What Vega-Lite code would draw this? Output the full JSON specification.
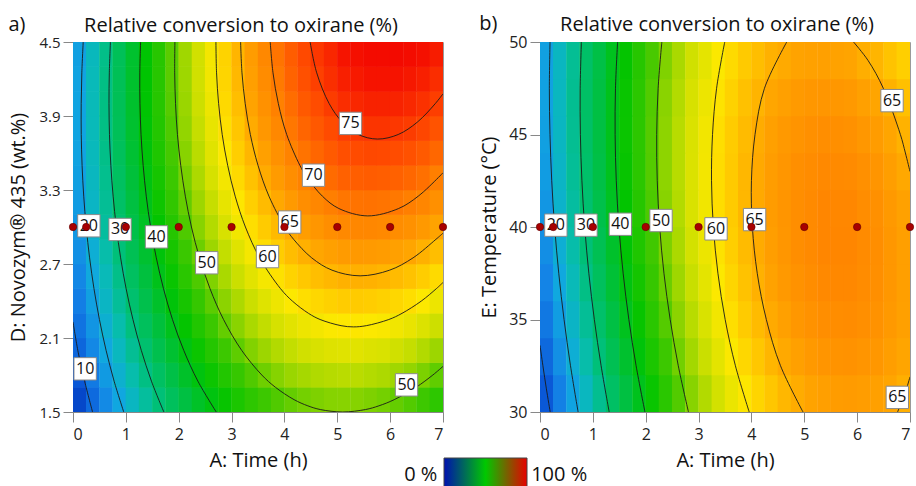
{
"$schema":"https://vega.github.io/schema/vega-lite/v6.json",
"padding":{"left":8,"top":13,"right":0,"bottom":0},
"config":{"font":"Open Sans","view":{"stroke":"#9a9a9a"},
"axis":{"grid":false,"labelFont":"Open Sans","titleFont":"Open Sans","labelColor":"#222","titleColor":"#111","titleFontWeight":"normal","domainColor":"#888","tickColor":"#888","tickSize":10,"zindex":1},
"title":{"font":"Open Sans","fontWeight":"normal","fontSize":20,"color":"#111"}},
"datasets":{
"ha":[
{"t":0.125,"y":1.6,"v":7.7},{"t":0.375,"y":1.6,"v":12},{"t":0.625,"y":1.6,"v":16.1},{"t":0.875,"y":1.6,"v":19.9},{"t":1.125,"y":1.6,"v":23.5},{"t":1.375,"y":1.6,"v":26.9},{"t":1.625,"y":1.6,"v":30.1},{"t":1.875,"y":1.6,"v":33},{"t":2.125,"y":1.6,"v":35.8},{"t":2.375,"y":1.6,"v":38.3},{"t":2.625,"y":1.6,"v":40.6},{"t":2.875,"y":1.6,"v":42.7},{"t":3.125,"y":1.6,"v":44.5},{"t":3.375,"y":1.6,"v":46.2},{"t":3.625,"y":1.6,"v":47.6},{"t":3.875,"y":1.6,"v":48.8},{"t":4.125,"y":1.6,"v":49.8},{"t":4.375,"y":1.6,"v":50.6},{"t":4.625,"y":1.6,"v":51.1},{"t":4.875,"y":1.6,"v":51.5},{"t":5.125,"y":1.6,"v":51.6},{"t":5.375,"y":1.6,"v":51.5},{"t":5.625,"y":1.6,"v":51.1},{"t":5.875,"y":1.6,"v":50.6},{"t":6.125,"y":1.6,"v":49.8},{"t":6.375,"y":1.6,"v":48.9},{"t":6.625,"y":1.6,"v":47.7},{"t":6.875,"y":1.6,"v":46.2},
{"t":0.125,"y":1.8,"v":9.7},{"t":0.375,"y":1.8,"v":14},{"t":0.625,"y":1.8,"v":18.2},{"t":0.875,"y":1.8,"v":22},{"t":1.125,"y":1.8,"v":25.7},{"t":1.375,"y":1.8,"v":29.1},{"t":1.625,"y":1.8,"v":32.4},{"t":1.875,"y":1.8,"v":35.3},{"t":2.125,"y":1.8,"v":38.2},{"t":2.375,"y":1.8,"v":40.7},{"t":2.625,"y":1.8,"v":43.1},{"t":2.875,"y":1.8,"v":45.2},{"t":3.125,"y":1.8,"v":47.1},{"t":3.375,"y":1.8,"v":48.8},{"t":3.625,"y":1.8,"v":50.3},{"t":3.875,"y":1.8,"v":51.5},{"t":4.125,"y":1.8,"v":52.6},{"t":4.375,"y":1.8,"v":53.4},{"t":4.625,"y":1.8,"v":54},{"t":4.875,"y":1.8,"v":54.4},{"t":5.125,"y":1.8,"v":54.6},{"t":5.375,"y":1.8,"v":54.6},{"t":5.625,"y":1.8,"v":54.2},{"t":5.875,"y":1.8,"v":53.8},{"t":6.125,"y":1.8,"v":53},{"t":6.375,"y":1.8,"v":52.2},{"t":6.625,"y":1.8,"v":51},{"t":6.875,"y":1.8,"v":49.6},
{"t":0.125,"y":2.0,"v":11.5},{"t":0.375,"y":2.0,"v":15.8},{"t":0.625,"y":2.0,"v":20.1},{"t":0.875,"y":2.0,"v":23.9},{"t":1.125,"y":2.0,"v":27.7},{"t":1.375,"y":2.0,"v":31.1},{"t":1.625,"y":2.0,"v":34.5},{"t":1.875,"y":2.0,"v":37.4},{"t":2.125,"y":2.0,"v":40.4},{"t":2.375,"y":2.0,"v":43},{"t":2.625,"y":2.0,"v":45.4},{"t":2.875,"y":2.0,"v":47.6},{"t":3.125,"y":2.0,"v":49.5},{"t":3.375,"y":2.0,"v":51.3},{"t":3.625,"y":2.0,"v":52.8},{"t":3.875,"y":2.0,"v":54.1},{"t":4.125,"y":2.0,"v":55.2},{"t":4.375,"y":2.0,"v":56.1},{"t":4.625,"y":2.0,"v":56.7},{"t":4.875,"y":2.0,"v":57.2},{"t":5.125,"y":2.0,"v":57.4},{"t":5.375,"y":2.0,"v":57.5},{"t":5.625,"y":2.0,"v":57.1},{"t":5.875,"y":2.0,"v":56.8},{"t":6.125,"y":2.0,"v":56},{"t":6.375,"y":2.0,"v":55.3},{"t":6.625,"y":2.0,"v":54.1},{"t":6.875,"y":2.0,"v":52.8},
{"t":0.125,"y":2.2,"v":13.1},{"t":0.375,"y":2.2,"v":17.5},{"t":0.625,"y":2.2,"v":21.8},{"t":0.875,"y":2.2,"v":25.7},{"t":1.125,"y":2.2,"v":29.5},{"t":1.375,"y":2.2,"v":33},{"t":1.625,"y":2.2,"v":36.4},{"t":1.875,"y":2.2,"v":39.4},{"t":2.125,"y":2.2,"v":42.4},{"t":2.375,"y":2.2,"v":45.1},{"t":2.625,"y":2.2,"v":47.5},{"t":2.875,"y":2.2,"v":49.8},{"t":3.125,"y":2.2,"v":51.7},{"t":3.375,"y":2.2,"v":53.6},{"t":3.625,"y":2.2,"v":55.1},{"t":3.875,"y":2.2,"v":56.5},{"t":4.125,"y":2.2,"v":57.6},{"t":4.375,"y":2.2,"v":58.6},{"t":4.625,"y":2.2,"v":59.2},{"t":4.875,"y":2.2,"v":59.8},{"t":5.125,"y":2.2,"v":60.1},{"t":5.375,"y":2.2,"v":60.2},{"t":5.625,"y":2.2,"v":59.9},{"t":5.875,"y":2.2,"v":59.6},{"t":6.125,"y":2.2,"v":58.9},{"t":6.375,"y":2.2,"v":58.2},{"t":6.625,"y":2.2,"v":57.1},{"t":6.875,"y":2.2,"v":55.8},
{"t":0.125,"y":2.4,"v":14.5},{"t":0.375,"y":2.4,"v":19},{"t":0.625,"y":2.4,"v":23.3},{"t":0.875,"y":2.4,"v":27.3},{"t":1.125,"y":2.4,"v":31.1},{"t":1.375,"y":2.4,"v":34.7},{"t":1.625,"y":2.4,"v":38.1},{"t":1.875,"y":2.4,"v":41.2},{"t":2.125,"y":2.4,"v":44.2},{"t":2.375,"y":2.4,"v":47},{"t":2.625,"y":2.4,"v":49.4},{"t":2.875,"y":2.4,"v":51.8},{"t":3.125,"y":2.4,"v":53.8},{"t":3.375,"y":2.4,"v":55.7},{"t":3.625,"y":2.4,"v":57.3},{"t":3.875,"y":2.4,"v":58.7},{"t":4.125,"y":2.4,"v":59.9},{"t":4.375,"y":2.4,"v":60.9},{"t":4.625,"y":2.4,"v":61.6},{"t":4.875,"y":2.4,"v":62.2},{"t":5.125,"y":2.4,"v":62.6},{"t":5.375,"y":2.4,"v":62.7},{"t":5.625,"y":2.4,"v":62.5},{"t":5.875,"y":2.4,"v":62.2},{"t":6.125,"y":2.4,"v":61.6},{"t":6.375,"y":2.4,"v":60.9},{"t":6.625,"y":2.4,"v":59.9},{"t":6.875,"y":2.4,"v":58.6},
{"t":0.125,"y":2.6,"v":15.7},{"t":0.375,"y":2.6,"v":20.3},{"t":0.625,"y":2.6,"v":24.6},{"t":0.875,"y":2.6,"v":28.7},{"t":1.125,"y":2.6,"v":32.6},{"t":1.375,"y":2.6,"v":36.2},{"t":1.625,"y":2.6,"v":39.7},{"t":1.875,"y":2.6,"v":42.8},{"t":2.125,"y":2.6,"v":45.9},{"t":2.375,"y":2.6,"v":48.7},{"t":2.625,"y":2.6,"v":51.2},{"t":2.875,"y":2.6,"v":53.6},{"t":3.125,"y":2.6,"v":55.7},{"t":3.375,"y":2.6,"v":57.6},{"t":3.625,"y":2.6,"v":59.3},{"t":3.875,"y":2.6,"v":60.7},{"t":4.125,"y":2.6,"v":62},{"t":4.375,"y":2.6,"v":63},{"t":4.625,"y":2.6,"v":63.8},{"t":4.875,"y":2.6,"v":64.4},{"t":5.125,"y":2.6,"v":64.9},{"t":5.375,"y":2.6,"v":65},{"t":5.625,"y":2.6,"v":64.9},{"t":5.875,"y":2.6,"v":64.6},{"t":6.125,"y":2.6,"v":64.1},{"t":6.375,"y":2.6,"v":63.5},{"t":6.625,"y":2.6,"v":62.5},{"t":6.875,"y":2.6,"v":61.3},
{"t":0.125,"y":2.8,"v":16.8},{"t":0.375,"y":2.8,"v":21.4},{"t":0.625,"y":2.8,"v":25.8},{"t":0.875,"y":2.8,"v":29.9},{"t":1.125,"y":2.8,"v":33.9},{"t":1.375,"y":2.8,"v":37.5},{"t":1.625,"y":2.8,"v":41.1},{"t":1.875,"y":2.8,"v":44.2},{"t":2.125,"y":2.8,"v":47.4},{"t":2.375,"y":2.8,"v":50.2},{"t":2.625,"y":2.8,"v":52.8},{"t":2.875,"y":2.8,"v":55.2},{"t":3.125,"y":2.8,"v":57.4},{"t":3.375,"y":2.8,"v":59.3},{"t":3.625,"y":2.8,"v":61.1},{"t":3.875,"y":2.8,"v":62.5},{"t":4.125,"y":2.8,"v":63.9},{"t":4.375,"y":2.8,"v":65},{"t":4.625,"y":2.8,"v":65.8},{"t":4.875,"y":2.8,"v":66.5},{"t":5.125,"y":2.8,"v":67},{"t":5.375,"y":2.8,"v":67.2},{"t":5.625,"y":2.8,"v":67.1},{"t":5.875,"y":2.8,"v":66.9},{"t":6.125,"y":2.8,"v":66.4},{"t":6.375,"y":2.8,"v":65.9},{"t":6.625,"y":2.8,"v":64.9},{"t":6.875,"y":2.8,"v":63.8},
{"t":0.125,"y":3.0,"v":17.7},{"t":0.375,"y":3.0,"v":22.4},{"t":0.625,"y":3.0,"v":26.8},{"t":0.875,"y":3.0,"v":31},{"t":1.125,"y":3.0,"v":35},{"t":1.375,"y":3.0,"v":38.7},{"t":1.625,"y":3.0,"v":42.3},{"t":1.875,"y":3.0,"v":45.5},{"t":2.125,"y":3.0,"v":48.7},{"t":2.375,"y":3.0,"v":51.6},{"t":2.625,"y":3.0,"v":54.2},{"t":2.875,"y":3.0,"v":56.7},{"t":3.125,"y":3.0,"v":58.9},{"t":3.375,"y":3.0,"v":60.9},{"t":3.625,"y":3.0,"v":62.7},{"t":3.875,"y":3.0,"v":64.2},{"t":4.125,"y":3.0,"v":65.6},{"t":4.375,"y":3.0,"v":66.8},{"t":4.625,"y":3.0,"v":67.6},{"t":4.875,"y":3.0,"v":68.4},{"t":5.125,"y":3.0,"v":69},{"t":5.375,"y":3.0,"v":69.2},{"t":5.625,"y":3.0,"v":69.2},{"t":5.875,"y":3.0,"v":69},{"t":6.125,"y":3.0,"v":68.6},{"t":6.375,"y":3.0,"v":68.1},{"t":6.625,"y":3.0,"v":67.2},{"t":6.875,"y":3.0,"v":66.1},
{"t":0.125,"y":3.2,"v":18.4},{"t":0.375,"y":3.2,"v":23.2},{"t":0.625,"y":3.2,"v":27.6},{"t":0.875,"y":3.2,"v":31.9},{"t":1.125,"y":3.2,"v":35.9},{"t":1.375,"y":3.2,"v":39.7},{"t":1.625,"y":3.2,"v":43.3},{"t":1.875,"y":3.2,"v":46.6},{"t":2.125,"y":3.2,"v":49.8},{"t":2.375,"y":3.2,"v":52.8},{"t":2.625,"y":3.2,"v":55.4},{"t":2.875,"y":3.2,"v":58},{"t":3.125,"y":3.2,"v":60.2},{"t":3.375,"y":3.2,"v":62.3},{"t":3.625,"y":3.2,"v":64.1},{"t":3.875,"y":3.2,"v":65.7},{"t":4.125,"y":3.2,"v":67.1},{"t":4.375,"y":3.2,"v":68.4},{"t":4.625,"y":3.2,"v":69.2},{"t":4.875,"y":3.2,"v":70.1},{"t":5.125,"y":3.2,"v":70.8},{"t":5.375,"y":3.2,"v":71},{"t":5.625,"y":3.2,"v":71.1},{"t":5.875,"y":3.2,"v":70.9},{"t":6.125,"y":3.2,"v":70.6},{"t":6.375,"y":3.2,"v":70.1},{"t":6.625,"y":3.2,"v":69.3},{"t":6.875,"y":3.2,"v":68.2},
{"t":0.125,"y":3.4,"v":18.9},{"t":0.375,"y":3.4,"v":23.8},{"t":0.625,"y":3.4,"v":28.2},{"t":0.875,"y":3.4,"v":32.6},{"t":1.125,"y":3.4,"v":36.6},{"t":1.375,"y":3.4,"v":40.5},{"t":1.625,"y":3.4,"v":44.1},{"t":1.875,"y":3.4,"v":47.5},{"t":2.125,"y":3.4,"v":50.8},{"t":2.375,"y":3.4,"v":53.8},{"t":2.625,"y":3.4,"v":56.5},{"t":2.875,"y":3.4,"v":59.1},{"t":3.125,"y":3.4,"v":61.4},{"t":3.375,"y":3.4,"v":63.5},{"t":3.625,"y":3.4,"v":65.4},{"t":3.875,"y":3.4,"v":67},{"t":4.125,"y":3.4,"v":68.5},{"t":4.375,"y":3.4,"v":69.8},{"t":4.625,"y":3.4,"v":70.7},{"t":4.875,"y":3.4,"v":71.6},{"t":5.125,"y":3.4,"v":72.4},{"t":5.375,"y":3.4,"v":72.6},{"t":5.625,"y":3.4,"v":72.8},{"t":5.875,"y":3.4,"v":72.6},{"t":6.125,"y":3.4,"v":72.4},{"t":6.375,"y":3.4,"v":71.9},{"t":6.625,"y":3.4,"v":71.2},{"t":6.875,"y":3.4,"v":70.1},
{"t":0.125,"y":3.6,"v":19.3},{"t":0.375,"y":3.6,"v":24.2},{"t":0.625,"y":3.6,"v":28.7},{"t":0.875,"y":3.6,"v":33.1},{"t":1.125,"y":3.6,"v":37.2},{"t":1.375,"y":3.6,"v":41.1},{"t":1.625,"y":3.6,"v":44.8},{"t":1.875,"y":3.6,"v":48.2},{"t":2.125,"y":3.6,"v":51.6},{"t":2.375,"y":3.6,"v":54.6},{"t":2.625,"y":3.6,"v":57.4},{"t":2.875,"y":3.6,"v":60},{"t":3.125,"y":3.6,"v":62.4},{"t":3.375,"y":3.6,"v":64.5},{"t":3.625,"y":3.6,"v":66.5},{"t":3.875,"y":3.6,"v":68.1},{"t":4.125,"y":3.6,"v":69.7},{"t":4.375,"y":3.6,"v":71},{"t":4.625,"y":3.6,"v":72},{"t":4.875,"y":3.6,"v":72.9},{"t":5.125,"y":3.6,"v":73.8},{"t":5.375,"y":3.6,"v":74.1},{"t":5.625,"y":3.6,"v":74.3},{"t":5.875,"y":3.6,"v":74.2},{"t":6.125,"y":3.6,"v":74},{"t":6.375,"y":3.6,"v":73.6},{"t":6.625,"y":3.6,"v":72.9},{"t":6.875,"y":3.6,"v":71.9},
{"t":0.125,"y":3.8,"v":19.5},{"t":0.375,"y":3.8,"v":24.4},{"t":0.625,"y":3.8,"v":29},{"t":0.875,"y":3.8,"v":33.4},{"t":1.125,"y":3.8,"v":37.6},{"t":1.375,"y":3.8,"v":41.5},{"t":1.625,"y":3.8,"v":45.3},{"t":1.875,"y":3.8,"v":48.7},{"t":2.125,"y":3.8,"v":52.2},{"t":2.375,"y":3.8,"v":55.3},{"t":2.625,"y":3.8,"v":58.1},{"t":2.875,"y":3.8,"v":60.8},{"t":3.125,"y":3.8,"v":63.2},{"t":3.375,"y":3.8,"v":65.4},{"t":3.625,"y":3.8,"v":67.4},{"t":3.875,"y":3.8,"v":69.1},{"t":4.125,"y":3.8,"v":70.7},{"t":4.375,"y":3.8,"v":72.1},{"t":4.625,"y":3.8,"v":73.1},{"t":4.875,"y":3.8,"v":74.1},{"t":5.125,"y":3.8,"v":75},{"t":5.375,"y":3.8,"v":75.4},{"t":5.625,"y":3.8,"v":75.6},{"t":5.875,"y":3.8,"v":75.6},{"t":6.125,"y":3.8,"v":75.4},{"t":6.375,"y":3.8,"v":75.1},{"t":6.625,"y":3.8,"v":74.4},{"t":6.875,"y":3.8,"v":73.5},
{"t":0.125,"y":4.0,"v":19.5},{"t":0.375,"y":4.0,"v":24.5},{"t":0.625,"y":4.0,"v":29.1},{"t":0.875,"y":4.0,"v":33.6},{"t":1.125,"y":4.0,"v":37.8},{"t":1.375,"y":4.0,"v":41.8},{"t":1.625,"y":4.0,"v":45.6},{"t":1.875,"y":4.0,"v":49.1},{"t":2.125,"y":4.0,"v":52.6},{"t":2.375,"y":4.0,"v":55.8},{"t":2.625,"y":4.0,"v":58.6},{"t":2.875,"y":4.0,"v":61.4},{"t":3.125,"y":4.0,"v":63.8},{"t":3.375,"y":4.0,"v":66.1},{"t":3.625,"y":4.0,"v":68.1},{"t":3.875,"y":4.0,"v":69.9},{"t":4.125,"y":4.0,"v":71.5},{"t":4.375,"y":4.0,"v":73},{"t":4.625,"y":4.0,"v":74},{"t":4.875,"y":4.0,"v":75.1},{"t":5.125,"y":4.0,"v":76.1},{"t":5.375,"y":4.0,"v":76.5},{"t":5.625,"y":4.0,"v":76.8},{"t":5.875,"y":4.0,"v":76.8},{"t":6.125,"y":4.0,"v":76.7},{"t":6.375,"y":4.0,"v":76.4},{"t":6.625,"y":4.0,"v":75.8},{"t":6.875,"y":4.0,"v":74.9},
{"t":0.125,"y":4.2,"v":19.3},{"t":0.375,"y":4.2,"v":24.4},{"t":0.625,"y":4.2,"v":29},{"t":0.875,"y":4.2,"v":33.6},{"t":1.125,"y":4.2,"v":37.8},{"t":1.375,"y":4.2,"v":41.9},{"t":1.625,"y":4.2,"v":45.7},{"t":1.875,"y":4.2,"v":49.3},{"t":2.125,"y":4.2,"v":52.9},{"t":2.375,"y":4.2,"v":56.1},{"t":2.625,"y":4.2,"v":59},{"t":2.875,"y":4.2,"v":61.8},{"t":3.125,"y":4.2,"v":64.3},{"t":3.375,"y":4.2,"v":66.6},{"t":3.625,"y":4.2,"v":68.7},{"t":3.875,"y":4.2,"v":70.5},{"t":4.125,"y":4.2,"v":72.2},{"t":4.375,"y":4.2,"v":73.7},{"t":4.625,"y":4.2,"v":74.8},{"t":4.875,"y":4.2,"v":75.9},{"t":5.125,"y":4.2,"v":77},{"t":5.375,"y":4.2,"v":77.4},{"t":5.625,"y":4.2,"v":77.8},{"t":5.875,"y":4.2,"v":77.8},{"t":6.125,"y":4.2,"v":77.8},{"t":6.375,"y":4.2,"v":77.5},{"t":6.625,"y":4.2,"v":77},{"t":6.875,"y":4.2,"v":76.1},
{"t":0.125,"y":4.4,"v":18.9},{"t":0.375,"y":4.4,"v":24.1},{"t":0.625,"y":4.4,"v":28.7},{"t":0.875,"y":4.4,"v":33.4},{"t":1.125,"y":4.4,"v":37.7},{"t":1.375,"y":4.4,"v":41.8},{"t":1.625,"y":4.4,"v":45.7},{"t":1.875,"y":4.4,"v":49.3},{"t":2.125,"y":4.4,"v":53},{"t":2.375,"y":4.4,"v":56.2},{"t":2.625,"y":4.4,"v":59.2},{"t":2.875,"y":4.4,"v":62},{"t":3.125,"y":4.4,"v":64.6},{"t":3.375,"y":4.4,"v":66.9},{"t":3.625,"y":4.4,"v":69.1},{"t":3.875,"y":4.4,"v":70.9},{"t":4.125,"y":4.4,"v":72.7},{"t":4.375,"y":4.4,"v":74.2},{"t":4.625,"y":4.4,"v":75.4},{"t":4.875,"y":4.4,"v":76.5},{"t":5.125,"y":4.4,"v":77.7},{"t":5.375,"y":4.4,"v":78.1},{"t":5.625,"y":4.4,"v":78.6},{"t":5.875,"y":4.4,"v":78.6},{"t":6.125,"y":4.4,"v":78.7},{"t":6.375,"y":4.4,"v":78.5},{"t":6.625,"y":4.4,"v":78},{"t":6.875,"y":4.4,"v":77.2}
],
"hb":[
{"t":0.125,"y":31,"v":9.8},{"t":0.375,"y":31,"v":14.7},{"t":0.625,"y":31,"v":19.4},{"t":0.875,"y":31,"v":23.8},{"t":1.125,"y":31,"v":28},{"t":1.375,"y":31,"v":32.1},{"t":1.625,"y":31,"v":35.9},{"t":1.875,"y":31,"v":39.4},{"t":2.125,"y":31,"v":42.8},{"t":2.375,"y":31,"v":45.9},{"t":2.625,"y":31,"v":48.9},{"t":2.875,"y":31,"v":51.6},{"t":3.125,"y":31,"v":54.1},{"t":3.375,"y":31,"v":56.3},{"t":3.625,"y":31,"v":58.4},{"t":3.875,"y":31,"v":60.2},{"t":4.125,"y":31,"v":61.8},{"t":4.375,"y":31,"v":63.2},{"t":4.625,"y":31,"v":64.4},{"t":4.875,"y":31,"v":65.3},{"t":5.125,"y":31,"v":66.1},{"t":5.375,"y":31,"v":66.6},{"t":5.625,"y":31,"v":66.9},{"t":5.875,"y":31,"v":67},{"t":6.125,"y":31,"v":66.8},{"t":6.375,"y":31,"v":66.5},{"t":6.625,"y":31,"v":65.9},{"t":6.875,"y":31,"v":65.1},
{"t":0.125,"y":33,"v":11.9},{"t":0.375,"y":33,"v":16.8},{"t":0.625,"y":33,"v":21.4},{"t":0.875,"y":33,"v":25.8},{"t":1.125,"y":33,"v":29.9},{"t":1.375,"y":33,"v":34},{"t":1.625,"y":33,"v":37.7},{"t":1.875,"y":33,"v":41.2},{"t":2.125,"y":33,"v":44.5},{"t":2.375,"y":33,"v":47.6},{"t":2.625,"y":33,"v":50.5},{"t":2.875,"y":33,"v":53.2},{"t":3.125,"y":33,"v":55.6},{"t":3.375,"y":33,"v":57.8},{"t":3.625,"y":33,"v":59.8},{"t":3.875,"y":33,"v":61.6},{"t":4.125,"y":33,"v":63.1},{"t":4.375,"y":33,"v":64.5},{"t":4.625,"y":33,"v":65.6},{"t":4.875,"y":33,"v":66.5},{"t":5.125,"y":33,"v":67.2},{"t":5.375,"y":33,"v":67.7},{"t":5.625,"y":33,"v":67.9},{"t":5.875,"y":33,"v":68},{"t":6.125,"y":33,"v":67.7},{"t":6.375,"y":33,"v":67.4},{"t":6.625,"y":33,"v":66.7},{"t":6.875,"y":33,"v":65.9},
{"t":0.125,"y":35,"v":13.7},{"t":0.375,"y":35,"v":18.6},{"t":0.625,"y":35,"v":23.1},{"t":0.875,"y":35,"v":27.5},{"t":1.125,"y":35,"v":31.5},{"t":1.375,"y":35,"v":35.6},{"t":1.625,"y":35,"v":39.2},{"t":1.875,"y":35,"v":42.7},{"t":2.125,"y":35,"v":45.9},{"t":2.375,"y":35,"v":49},{"t":2.625,"y":35,"v":51.8},{"t":2.875,"y":35,"v":54.5},{"t":3.125,"y":35,"v":56.8},{"t":3.375,"y":35,"v":59},{"t":3.625,"y":35,"v":60.9},{"t":3.875,"y":35,"v":62.7},{"t":4.125,"y":35,"v":64.1},{"t":4.375,"y":35,"v":65.5},{"t":4.625,"y":35,"v":66.5},{"t":4.875,"y":35,"v":67.4},{"t":5.125,"y":35,"v":68},{"t":5.375,"y":35,"v":68.5},{"t":5.625,"y":35,"v":68.6},{"t":5.875,"y":35,"v":68.7},{"t":6.125,"y":35,"v":68.3},{"t":6.375,"y":35,"v":68},{"t":6.625,"y":35,"v":67.2},{"t":6.875,"y":35,"v":66.4},
{"t":0.125,"y":37,"v":15.3},{"t":0.375,"y":37,"v":20.1},{"t":0.625,"y":37,"v":24.6},{"t":0.875,"y":37,"v":28.9},{"t":1.125,"y":37,"v":32.9},{"t":1.375,"y":37,"v":36.9},{"t":1.625,"y":37,"v":40.5},{"t":1.875,"y":37,"v":43.9},{"t":2.125,"y":37,"v":47.1},{"t":2.375,"y":37,"v":50.1},{"t":2.625,"y":37,"v":52.9},{"t":2.875,"y":37,"v":55.5},{"t":3.125,"y":37,"v":57.8},{"t":3.375,"y":37,"v":59.9},{"t":3.625,"y":37,"v":61.8},{"t":3.875,"y":37,"v":63.5},{"t":4.125,"y":37,"v":64.9},{"t":4.375,"y":37,"v":66.2},{"t":4.625,"y":37,"v":67.2},{"t":4.875,"y":37,"v":68},{"t":5.125,"y":37,"v":68.6},{"t":5.375,"y":37,"v":69},{"t":5.625,"y":37,"v":69.1},{"t":5.875,"y":37,"v":69.1},{"t":6.125,"y":37,"v":68.7},{"t":6.375,"y":37,"v":68.3},{"t":6.625,"y":37,"v":67.5},{"t":6.875,"y":37,"v":66.6},
{"t":0.125,"y":39,"v":16.6},{"t":0.375,"y":39,"v":21.4},{"t":0.625,"y":39,"v":25.8},{"t":0.875,"y":39,"v":30.1},{"t":1.125,"y":39,"v":34},{"t":1.375,"y":39,"v":38},{"t":1.625,"y":39,"v":41.5},{"t":1.875,"y":39,"v":44.9},{"t":2.125,"y":39,"v":48},{"t":2.375,"y":39,"v":51},{"t":2.625,"y":39,"v":53.7},{"t":2.875,"y":39,"v":56.3},{"t":3.125,"y":39,"v":58.5},{"t":3.375,"y":39,"v":60.6},{"t":3.625,"y":39,"v":62.4},{"t":3.875,"y":39,"v":64.1},{"t":4.125,"y":39,"v":65.4},{"t":4.375,"y":39,"v":66.7},{"t":4.625,"y":39,"v":67.6},{"t":4.875,"y":39,"v":68.4},{"t":5.125,"y":39,"v":68.9},{"t":5.375,"y":39,"v":69.3},{"t":5.625,"y":39,"v":69.3},{"t":5.875,"y":39,"v":69.3},{"t":6.125,"y":39,"v":68.8},{"t":6.375,"y":39,"v":68.4},{"t":6.625,"y":39,"v":67.5},{"t":6.875,"y":39,"v":66.6},
{"t":0.125,"y":41,"v":17.6},{"t":0.375,"y":41,"v":22.4},{"t":0.625,"y":41,"v":26.7},{"t":0.875,"y":41,"v":31},{"t":1.125,"y":41,"v":34.8},{"t":1.375,"y":41,"v":38.8},{"t":1.625,"y":41,"v":42.2},{"t":1.875,"y":41,"v":45.6},{"t":2.125,"y":41,"v":48.6},{"t":2.375,"y":41,"v":51.6},{"t":2.625,"y":41,"v":54.2},{"t":2.875,"y":41,"v":56.8},{"t":3.125,"y":41,"v":58.9},{"t":3.375,"y":41,"v":61},{"t":3.625,"y":41,"v":62.7},{"t":3.875,"y":41,"v":64.4},{"t":4.125,"y":41,"v":65.6},{"t":4.375,"y":41,"v":66.9},{"t":4.625,"y":41,"v":67.7},{"t":4.875,"y":41,"v":68.5},{"t":5.125,"y":41,"v":68.9},{"t":5.375,"y":41,"v":69.3},{"t":5.625,"y":41,"v":69.2},{"t":5.875,"y":41,"v":69.2},{"t":6.125,"y":41,"v":68.6},{"t":6.375,"y":41,"v":68.2},{"t":6.625,"y":41,"v":67.2},{"t":6.875,"y":41,"v":66.3},
{"t":0.125,"y":43,"v":18.4},{"t":0.375,"y":43,"v":23.1},{"t":0.625,"y":43,"v":27.4},{"t":0.875,"y":43,"v":31.6},{"t":1.125,"y":43,"v":35.4},{"t":1.375,"y":43,"v":39.3},{"t":1.625,"y":43,"v":42.7},{"t":1.875,"y":43,"v":46},{"t":2.125,"y":43,"v":49},{"t":2.375,"y":43,"v":51.9},{"t":2.625,"y":43,"v":54.5},{"t":2.875,"y":43,"v":57},{"t":3.125,"y":43,"v":59.1},{"t":3.375,"y":43,"v":61.1},{"t":3.625,"y":43,"v":62.8},{"t":3.875,"y":43,"v":64.4},{"t":4.125,"y":43,"v":65.6},{"t":4.375,"y":43,"v":66.8},{"t":4.625,"y":43,"v":67.6},{"t":4.875,"y":43,"v":68.3},{"t":5.125,"y":43,"v":68.7},{"t":5.375,"y":43,"v":69},{"t":5.625,"y":43,"v":68.9},{"t":5.875,"y":43,"v":68.8},{"t":6.125,"y":43,"v":68.2},{"t":6.375,"y":43,"v":67.7},{"t":6.625,"y":43,"v":66.7},{"t":6.875,"y":43,"v":65.7},
{"t":0.125,"y":45,"v":18.9},{"t":0.375,"y":45,"v":23.5},{"t":0.625,"y":45,"v":27.8},{"t":0.875,"y":45,"v":31.9},{"t":1.125,"y":45,"v":35.7},{"t":1.375,"y":45,"v":39.5},{"t":1.625,"y":45,"v":42.9},{"t":1.875,"y":45,"v":46.1},{"t":2.125,"y":45,"v":49.1},{"t":2.375,"y":45,"v":51.9},{"t":2.625,"y":45,"v":54.5},{"t":2.875,"y":45,"v":56.9},{"t":3.125,"y":45,"v":59},{"t":3.375,"y":45,"v":60.9},{"t":3.625,"y":45,"v":62.6},{"t":3.875,"y":45,"v":64.1},{"t":4.125,"y":45,"v":65.3},{"t":4.375,"y":45,"v":66.4},{"t":4.625,"y":45,"v":67.2},{"t":4.875,"y":45,"v":67.8},{"t":5.125,"y":45,"v":68.2},{"t":5.375,"y":45,"v":68.4},{"t":5.625,"y":45,"v":68.3},{"t":5.875,"y":45,"v":68.1},{"t":6.125,"y":45,"v":67.5},{"t":6.375,"y":45,"v":66.9},{"t":6.625,"y":45,"v":65.9},{"t":6.875,"y":45,"v":64.8},
{"t":0.125,"y":47,"v":19.1},{"t":0.375,"y":47,"v":23.7},{"t":0.625,"y":47,"v":27.9},{"t":0.875,"y":47,"v":32},{"t":1.125,"y":47,"v":35.7},{"t":1.375,"y":47,"v":39.5},{"t":1.625,"y":47,"v":42.8},{"t":1.875,"y":47,"v":46},{"t":2.125,"y":47,"v":48.9},{"t":2.375,"y":47,"v":51.7},{"t":2.625,"y":47,"v":54.2},{"t":2.875,"y":47,"v":56.6},{"t":3.125,"y":47,"v":58.6},{"t":3.375,"y":47,"v":60.5},{"t":3.625,"y":47,"v":62.1},{"t":3.875,"y":47,"v":63.6},{"t":4.125,"y":47,"v":64.7},{"t":4.375,"y":47,"v":65.8},{"t":4.625,"y":47,"v":66.5},{"t":4.875,"y":47,"v":67.1},{"t":5.125,"y":47,"v":67.4},{"t":5.375,"y":47,"v":67.6},{"t":5.625,"y":47,"v":67.4},{"t":5.875,"y":47,"v":67.2},{"t":6.125,"y":47,"v":66.5},{"t":6.375,"y":47,"v":65.9},{"t":6.625,"y":47,"v":64.8},{"t":6.875,"y":47,"v":63.7},
{"t":0.125,"y":49,"v":19},{"t":0.375,"y":49,"v":23.6},{"t":0.625,"y":49,"v":27.7},{"t":0.875,"y":49,"v":31.8},{"t":1.125,"y":49,"v":35.4},{"t":1.375,"y":49,"v":39.2},{"t":1.625,"y":49,"v":42.4},{"t":1.875,"y":49,"v":45.6},{"t":2.125,"y":49,"v":48.4},{"t":2.375,"y":49,"v":51.2},{"t":2.625,"y":49,"v":53.6},{"t":2.875,"y":49,"v":56},{"t":3.125,"y":49,"v":57.9},{"t":3.375,"y":49,"v":59.8},{"t":3.625,"y":49,"v":61.3},{"t":3.875,"y":49,"v":62.8},{"t":4.125,"y":49,"v":63.8},{"t":4.375,"y":49,"v":64.9},{"t":4.625,"y":49,"v":65.5},{"t":4.875,"y":49,"v":66.1},{"t":5.125,"y":49,"v":66.3},{"t":5.375,"y":49,"v":66.5},{"t":5.625,"y":49,"v":66.2},{"t":5.875,"y":49,"v":66},{"t":6.125,"y":49,"v":65.2},{"t":6.375,"y":49,"v":64.6},{"t":6.625,"y":49,"v":63.4},{"t":6.875,"y":49,"v":62.3}
],
"ca":[
{"c":"a10","t":0,"y":2.23},{"c":"a10","t":0.1,"y":1.98},{"c":"a10","t":0.22,"y":1.75},{"c":"a10","t":0.37,"y":1.5},
{"c":"a20","t":0.193,"y":4.5},{"c":"a20","t":0.167,"y":4.25},{"c":"a20","t":0.155,"y":4.0},{"c":"a20","t":0.156,"y":3.75},{"c":"a20","t":0.172,"y":3.5},{"c":"a20","t":0.203,"y":3.25},{"c":"a20","t":0.25,"y":3.0},{"c":"a20","t":0.314,"y":2.75},{"c":"a20","t":0.397,"y":2.5},{"c":"a20","t":0.5,"y":2.25},{"c":"a20","t":0.626,"y":2.0},{"c":"a20","t":0.778,"y":1.75},{"c":"a20","t":0.96,"y":1.5},
{"c":"a30","t":0.708,"y":4.5},{"c":"a30","t":0.687,"y":4.25},{"c":"a30","t":0.681,"y":4.0},{"c":"a30","t":0.69,"y":3.75},{"c":"a30","t":0.716,"y":3.5},{"c":"a30","t":0.759,"y":3.25},{"c":"a30","t":0.82,"y":3.0},{"c":"a30","t":0.901,"y":2.75},{"c":"a30","t":1.005,"y":2.5},{"c":"a30","t":1.134,"y":2.25},{"c":"a30","t":1.292,"y":2.0},{"c":"a30","t":1.484,"y":1.75},{"c":"a30","t":1.719,"y":1.5},
{"c":"a40","t":1.279,"y":4.5},{"c":"a40","t":1.264,"y":4.25},{"c":"a40","t":1.267,"y":4.0},{"c":"a40","t":1.287,"y":3.75},{"c":"a40","t":1.327,"y":3.5},{"c":"a40","t":1.386,"y":3.25},{"c":"a40","t":1.468,"y":3.0},{"c":"a40","t":1.576,"y":2.75},{"c":"a40","t":1.712,"y":2.5},{"c":"a40","t":1.882,"y":2.25},{"c":"a40","t":2.095,"y":2.0},{"c":"a40","t":2.363,"y":1.75},{"c":"a40","t":2.71,"y":1.5},
{"c":"a50","t":1.928,"y":4.5},{"c":"a50","t":1.924,"y":4.25},{"c":"a50","t":1.94,"y":4.0},{"c":"a50","t":1.976,"y":3.75},{"c":"a50","t":2.038,"y":3.5},{"c":"a50","t":2.125,"y":3.25},{"c":"a50","t":2.241,"y":3.0},{"c":"a50","t":2.394,"y":2.75},{"c":"a50","t":2.592,"y":2.5},{"c":"a50","t":2.848,"y":2.25},{"c":"a50","t":3.191,"y":2.0},{"c":"a50","t":3.572,"y":1.8},{"c":"a50","t":3.831,"y":1.7},{"c":"a50","t":4.183,"y":1.6},{"c":"a50","t":4.443,"y":1.55},{"c":"a50","t":4.678,"y":1.52},{"c":"a50","t":5.1,"y":1.5},{"c":"a50","t":5.534,"y":1.52},{"c":"a50","t":5.787,"y":1.55},{"c":"a50","t":6.077,"y":1.6},{"c":"a50","t":6.489,"y":1.7},{"c":"a50","t":6.808,"y":1.8},{"c":"a50","t":7.0,"y":1.87},
{"c":"a60","t":2.704,"y":4.5},{"c":"a60","t":2.716,"y":4.25},{"c":"a60","t":2.755,"y":4.0},{"c":"a60","t":2.823,"y":3.75},{"c":"a60","t":2.926,"y":3.5},{"c":"a60","t":3.068,"y":3.25},{"c":"a60","t":3.262,"y":3.0},{"c":"a60","t":3.531,"y":2.75},{"c":"a60","t":3.926,"y":2.5},{"c":"a60","t":4.149,"y":2.4},{"c":"a60","t":4.455,"y":2.3},{"c":"a60","t":4.675,"y":2.25},{"c":"a60","t":5.071,"y":2.2},{"c":"a60","t":5.307,"y":2.19},{"c":"a60","t":5.549,"y":2.2},{"c":"a60","t":5.975,"y":2.25},{"c":"a60","t":6.225,"y":2.3},{"c":"a60","t":6.591,"y":2.4},{"c":"a60","t":6.874,"y":2.5},{"c":"a60","t":7.0,"y":2.55},
{"c":"a65","t":3.171,"y":4.5},{"c":"a65","t":3.197,"y":4.25},{"c":"a65","t":3.258,"y":4.0},{"c":"a65","t":3.355,"y":3.75},{"c":"a65","t":3.5,"y":3.5},{"c":"a65","t":3.707,"y":3.25},{"c":"a65","t":4.008,"y":3.0},{"c":"a65","t":4.174,"y":2.9},{"c":"a65","t":4.516,"y":2.75},{"c":"a65","t":4.9,"y":2.65},{"c":"a65","t":5.431,"y":2.604},{"c":"a65","t":5.99,"y":2.65},{"c":"a65","t":6.434,"y":2.75},{"c":"a65","t":6.866,"y":2.9},{"c":"a65","t":7.0,"y":2.95},
{"c":"a70","t":3.731,"y":4.5},{"c":"a70","t":3.784,"y":4.25},{"c":"a70","t":3.885,"y":4.0},{"c":"a70","t":4.043,"y":3.75},{"c":"a70","t":4.292,"y":3.5},{"c":"a70","t":4.43,"y":3.4},{"c":"a70","t":4.718,"y":3.25},{"c":"a70","t":5.029,"y":3.15},{"c":"a70","t":5.577,"y":3.09},{"c":"a70","t":6.161,"y":3.15},{"c":"a70","t":6.532,"y":3.25},{"c":"a70","t":6.91,"y":3.4},{"c":"a70","t":7.0,"y":3.44},
{"c":"a75","t":4.486,"y":4.5},{"c":"a75","t":4.611,"y":4.25},{"c":"a75","t":4.847,"y":4.0},{"c":"a75","t":5.096,"y":3.85},{"c":"a75","t":5.397,"y":3.75},{"c":"a75","t":5.764,"y":3.713},{"c":"a75","t":6.153,"y":3.75},{"c":"a75","t":6.514,"y":3.85},{"c":"a75","t":6.853,"y":4.0},{"c":"a75","t":7.0,"y":4.08}
],
"cb":[
{"c":"b10","t":0.193,"y":30},{"c":"b10","t":0.121,"y":31.25},{"c":"b10","t":0.055,"y":32.5},{"c":"b10","t":0,"y":33.6},
{"c":"b20","t":0.721,"y":30},{"c":"b20","t":0.577,"y":32.5},{"c":"b20","t":0.455,"y":35},{"c":"b20","t":0.355,"y":37.5},{"c":"b20","t":0.277,"y":40},{"c":"b20","t":0.222,"y":42.5},{"c":"b20","t":0.189,"y":45},{"c":"b20","t":0.177,"y":47.5},{"c":"b20","t":0.19,"y":50},
{"c":"b30","t":1.309,"y":30},{"c":"b30","t":1.156,"y":32.5},{"c":"b30","t":1.028,"y":35},{"c":"b30","t":0.924,"y":37.5},{"c":"b30","t":0.846,"y":40},{"c":"b30","t":0.793,"y":42.5},{"c":"b30","t":0.764,"y":45},{"c":"b30","t":0.76,"y":47.5},{"c":"b30","t":0.783,"y":50},
{"c":"b40","t":1.986,"y":30},{"c":"b40","t":1.818,"y":32.5},{"c":"b40","t":1.681,"y":35},{"c":"b40","t":1.573,"y":37.5},{"c":"b40","t":1.493,"y":40},{"c":"b40","t":1.443,"y":42.5},{"c":"b40","t":1.421,"y":45},{"c":"b40","t":1.428,"y":47.5},{"c":"b40","t":1.468,"y":50},
{"c":"b50","t":2.809,"y":30},{"c":"b50","t":2.616,"y":32.5},{"c":"b50","t":2.463,"y":35},{"c":"b50","t":2.345,"y":37.5},{"c":"b50","t":2.264,"y":40},{"c":"b50","t":2.218,"y":42.5},{"c":"b50","t":2.208,"y":45},{"c":"b50","t":2.235,"y":47.5},{"c":"b50","t":2.305,"y":50},
{"c":"b60","t":3.958,"y":30},{"c":"b60","t":3.697,"y":32.5},{"c":"b60","t":3.503,"y":35},{"c":"b60","t":3.366,"y":37.5},{"c":"b60","t":3.28,"y":40},{"c":"b60","t":3.245,"y":42.5},{"c":"b60","t":3.264,"y":45},{"c":"b60","t":3.341,"y":47.5},{"c":"b60","t":3.495,"y":50},
{"c":"b65a","t":4.976,"y":30},{"c":"b65a","t":4.55,"y":32.5},{"c":"b65a","t":4.282,"y":35},{"c":"b65a","t":4.11,"y":37.5},{"c":"b65a","t":4.018,"y":40},{"c":"b65a","t":4.0,"y":42.5},{"c":"b65a","t":4.068,"y":45},{"c":"b65a","t":4.247,"y":47.5},{"c":"b65a","t":4.668,"y":50},
{"c":"b65b","t":7.0,"y":43},{"c":"b65b","t":6.913,"y":44},{"c":"b65b","t":6.818,"y":45},{"c":"b65b","t":6.495,"y":47.5},{"c":"b65b","t":6.207,"y":49},{"c":"b65b","t":5.932,"y":50},
{"c":"b65c","t":6.764,"y":30},{"c":"b65c","t":6.905,"y":31},{"c":"b65c","t":7.0,"y":31.9}
],
"la":[
{"t":0.30,"y":3.01,"s":"20"},{"t":0.89,"y":2.98,"s":"30"},{"t":1.58,"y":2.92,"s":"40"},{"t":2.53,"y":2.71,"s":"50"},{"t":3.68,"y":2.76,"s":"60"},{"t":4.10,"y":3.04,"s":"65"},{"t":4.55,"y":3.42,"s":"70"},{"t":5.25,"y":3.84,"s":"75"},{"t":0.23,"y":1.85,"s":"10"},{"t":6.31,"y":1.72,"s":"50"}
],
"lb":[
{"t":0.30,"y":40.1,"s":"20"},{"t":0.87,"y":40.1,"s":"30"},{"t":1.52,"y":40.15,"s":"40"},{"t":2.29,"y":40.35,"s":"50"},{"t":3.33,"y":39.9,"s":"60"},{"t":4.06,"y":40.4,"s":"65"},{"t":6.66,"y":46.83,"s":"65"},{"t":6.76,"y":30.79,"s":"65"}
],
"pa":[{"t":0,"y":3},{"t":0.25,"y":3},{"t":1,"y":3},{"t":2,"y":3},{"t":3,"y":3},{"t":4,"y":3},{"t":5,"y":3},{"t":6,"y":3},{"t":7,"y":3}],
"pb":[{"t":0,"y":40},{"t":0.25,"y":40},{"t":1,"y":40},{"t":2,"y":40},{"t":3,"y":40},{"t":4,"y":40},{"t":5,"y":40},{"t":6,"y":40},{"t":7,"y":40}]
},
"vconcat":[
{"hconcat":[
{"title":{"text":"a)","anchor":"start","frame":"bounds","offset":-19,"fontSize":20},
"vconcat":[{
"width":370,"height":370,
"title":{"text":"Relative conversion to oxirane (%)","dx":-17,"offset":-1},
"layer":[
{"data":{"name":"ha"},"mark":{"type":"point","shape":"M-0.54,-1H0.54V1H-0.54Z","size":635,"filled":true,"opacity":1,"strokeWidth":0,"clip":true},
"encoding":{
"x":{"field":"t","type":"quantitative","scale":{"domain":[0,7],"nice":false,"zero":false},"axis":{"values":[0,1,2,3,4,5,6,7],"format":"d","title":"A: Time (h)","labelFontSize":16,"titleFontSize":20,"labelPadding":4,"titlePadding":8}},
"y":{"field":"y","type":"quantitative","scale":{"domain":[1.5,4.5],"nice":false,"zero":false},"axis":{"values":[1.5,2.1,2.7,3.3,3.9,4.5],"format":".1f","title":"D: Novozym® 435 (wt.%)","labelFontSize":15,"titleFontSize":20,"labelPadding":3,"titlePadding":10}},
"color":{"field":"v","type":"quantitative","scale":{"domain":[5,10,15,20,25,30,36,42,48,52,56,60,63,66,70,74,78,80],"range":["#0030b8","#0a5ad8","#1482e6","#10a8e0","#08bcb4","#00c078","#00c040","#00c400","#40c800","#90d400","#d0e000","#fde800","#ffc800","#ffa400","#ff8000","#ff4c00","#f51000","#f00000"],"interpolate":"rgb"},"legend":null}}},
{"data":{"name":"ca"},"mark":{"type":"line","interpolate":"catmull-rom","color":"#1a1a1a","strokeWidth":0.9,"clip":true},
"encoding":{"x":{"field":"t","type":"quantitative"},"y":{"field":"y","type":"quantitative"},"detail":{"field":"c","type":"nominal"},"order":{"value":null}}},
{"data":{"name":"la"},"mark":{"type":"point","shape":"square","size":500,"filled":true,"fill":"#ffffff","stroke":"#8a8a8a","strokeWidth":1,"opacity":1},
"encoding":{"x":{"field":"t","type":"quantitative"},"y":{"field":"y","type":"quantitative"}}},
{"data":{"name":"la"},"mark":{"type":"text","font":"Open Sans","fontSize":16,"color":"#111111"},
"encoding":{"x":{"field":"t","type":"quantitative"},"y":{"field":"y","type":"quantitative"},"text":{"field":"s","type":"nominal"}}},
{"data":{"name":"pa"},"mark":{"type":"point","filled":true,"fill":"#a80000","stroke":"#600000","strokeWidth":0.6,"size":55,"opacity":1},
"encoding":{"x":{"field":"t","type":"quantitative"},"y":{"field":"y","type":"quantitative"}}}
]}]},
{"title":{"text":"b)","anchor":"start","frame":"bounds","offset":-19,"fontSize":20},
"vconcat":[{
"width":370,"height":370,
"title":{"text":"Relative conversion to oxirane (%)","dx":-8,"offset":-1},
"layer":[
{"data":{"name":"hb"},"mark":{"type":"point","shape":"M-0.363,-1H0.363V1H-0.363Z","size":1406,"filled":true,"opacity":1,"strokeWidth":0,"clip":true},
"encoding":{
"x":{"field":"t","type":"quantitative","scale":{"domain":[0,7],"nice":false,"zero":false},"axis":{"values":[0,1,2,3,4,5,6,7],"format":"d","title":"A: Time (h)","labelFontSize":16,"titleFontSize":20,"labelPadding":4,"titlePadding":8}},
"y":{"field":"y","type":"quantitative","scale":{"domain":[30,50],"nice":false,"zero":false},"axis":{"values":[30,35,40,45,50],"format":"d","title":"E: Temperature (°C)","labelFontSize":16,"titleFontSize":20,"labelPadding":3,"titlePadding":9}},
"color":{"field":"v","type":"quantitative","scale":{"domain":[5,10,15,20,25,30,36,42,48,52,56,60,63,66,70,74,78,80],"range":["#0030b8","#0a5ad8","#1482e6","#10a8e0","#08bcb4","#00c078","#00c040","#00c400","#40c800","#90d400","#d0e000","#fde800","#ffc800","#ffa400","#ff8000","#ff4c00","#f51000","#f00000"],"interpolate":"rgb"},"legend":null}}},
{"data":{"name":"cb"},"mark":{"type":"line","interpolate":"catmull-rom","color":"#1a1a1a","strokeWidth":0.9,"clip":true},
"encoding":{"x":{"field":"t","type":"quantitative"},"y":{"field":"y","type":"quantitative"},"detail":{"field":"c","type":"nominal"},"order":{"value":null}}},
{"data":{"name":"lb"},"mark":{"type":"point","shape":"square","size":500,"filled":true,"fill":"#ffffff","stroke":"#8a8a8a","strokeWidth":1,"opacity":1},
"encoding":{"x":{"field":"t","type":"quantitative"},"y":{"field":"y","type":"quantitative"}}},
{"data":{"name":"lb"},"mark":{"type":"text","font":"Open Sans","fontSize":16,"color":"#111111"},
"encoding":{"x":{"field":"t","type":"quantitative"},"y":{"field":"y","type":"quantitative"},"text":{"field":"s","type":"nominal"}}},
{"data":{"name":"pb"},"mark":{"type":"point","filled":true,"fill":"#a80000","stroke":"#600000","strokeWidth":0.6,"size":55,"opacity":1},
"encoding":{"x":{"field":"t","type":"quantitative"},"y":{"field":"y","type":"quantitative"}}}
]}]}
],"spacing":30},
{"width":454,"height":34,"view":{"stroke":null},
"layer":[
{"data":{"values":[{"a":0,"b":100}]},"mark":{"type":"rect","stroke":"#444444","strokeWidth":1,"fill":{"gradient":"linear","x1":0,"y1":0,"x2":1,"y2":0,"stops":[{"offset":0,"color":"#0010b0"},{"offset":0.5,"color":"#00c800"},{"offset":1,"color":"#e80000"}]}},
"encoding":{"x":{"field":"a","type":"quantitative","scale":{"domain":[-447,100],"nice":false,"zero":false},"axis":null},"x2":{"field":"b"}}},
{"data":{"values":[{"p":-8,"s":"0 %"}]},"mark":{"type":"text","align":"right","font":"Open Sans","fontSize":20,"color":"#111111"},
"encoding":{"x":{"field":"p","type":"quantitative"},"text":{"field":"s","type":"nominal"}}},
{"data":{"values":[{"p":105,"s":"100 %"}]},"mark":{"type":"text","align":"left","font":"Open Sans","fontSize":20,"color":"#111111"},
"encoding":{"x":{"field":"p","type":"quantitative"},"text":{"field":"s","type":"nominal"}}}
]}
],
"spacing":416,"bounds":"flush"
}
